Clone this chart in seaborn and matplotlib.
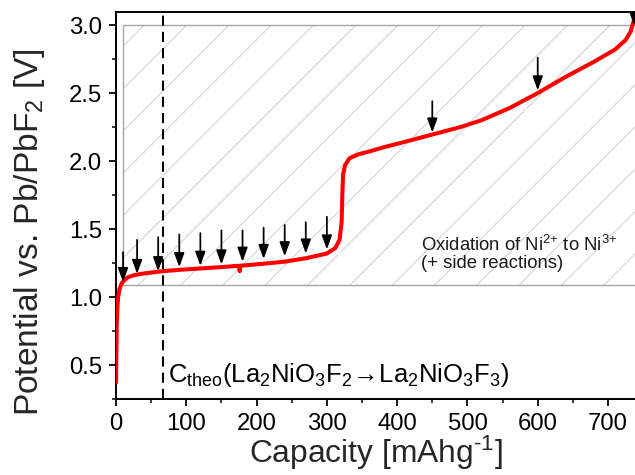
import pandas as pd
import seaborn as sns
import matplotlib.pyplot as plt
from matplotlib.patches import Rectangle
from matplotlib.ticker import MultipleLocator

# Charge curve: capacity (mAh/g) vs potential (V vs. Pb/PbF2)
capacity = [0, 0.5, 1, 2, 3, 5, 8, 12, 17, 25, 35, 50, 67, 90, 120, 150, 175,
            176, 177, 210, 240, 270, 300, 312, 318, 321, 322, 323, 326, 332,
            345, 360, 380, 410, 450, 490, 520, 560, 600, 640, 680, 710, 725,
            732, 736, 740]
potential = [0.37, 0.60, 0.80, 0.93, 1.00, 1.06, 1.10, 1.125, 1.145, 1.16,
             1.17, 1.18, 1.19, 1.20, 1.21, 1.22, 1.23, 1.19, 1.23, 1.245,
             1.26, 1.285, 1.32, 1.36, 1.42, 1.55, 1.75, 1.90, 1.97, 2.02,
             2.05, 2.07, 2.10, 2.14, 2.195, 2.25, 2.30, 2.39, 2.50, 2.62,
             2.73, 2.82, 2.89, 2.95, 3.02, 3.10]

# Markers for sampled states along the curve
arrow_x = [10, 30, 60, 90, 120, 150, 180, 210, 240, 270, 300, 450, 600, 737]
arrow_tip = [1.11, 1.17, 1.19, 1.22, 1.23, 1.24, 1.26, 1.28, 1.30, 1.32,
             1.35, 2.21, 2.52, 3.00]
arrow_tail = [1.33, 1.42, 1.44, 1.46, 1.47, 1.49, 1.49, 1.51, 1.53, 1.55,
              1.59, 2.44, 2.76, 3.25]

c_theo = 67
region_x = [10, 800]
region_v = [1.09, 3.0]

df = pd.DataFrame({"Capacity": capacity, "Potential": potential})

sns.set_style("ticks")
plt.rcParams["font.family"] = ["Liberation Sans", "DejaVu Sans"]
plt.rcParams["mathtext.fontset"] = "custom"
plt.rcParams["mathtext.rm"] = "Liberation Sans"
plt.rcParams["mathtext.it"] = "Liberation Sans:italic"
plt.rcParams["mathtext.bf"] = "Liberation Sans:bold"
plt.rcParams["hatch.linewidth"] = 0.55

DPI = 127
fig = plt.figure(figsize=(635 / DPI, 475 / DPI), dpi=DPI)
ax = fig.add_axes([0.1827, 0.16, 0.8173, 0.8147])

# Hatched region for the Ni2+ -> Ni3+ oxidation range
ax.add_patch(Rectangle((region_x[0], region_v[0]), region_x[1] - region_x[0],
                       region_v[1] - region_v[0], facecolor="none",
                       edgecolor="#cfcfcf", hatch="/", lw=0, zorder=0.5))
ax.add_patch(Rectangle((region_x[0], region_v[0]), region_x[1] - region_x[0],
                       region_v[1] - region_v[0], fill=False,
                       edgecolor="#a5a5a5", lw=0.8, zorder=0.6))

sns.lineplot(data=df, x="Capacity", y="Potential", color="#ff0000",
             lw=2.3, ax=ax, zorder=3)

ax.axvline(c_theo, color="black", lw=1.15, ls=(0, (5, 3)), zorder=2)

for x, tip, tail in zip(arrow_x, arrow_tip, arrow_tail):
    ann = ax.annotate("", xy=(x, tip), xytext=(x, tail),
                      arrowprops=dict(arrowstyle="-|>,head_length=0.55,head_width=0.2",
                                      color="black", lw=1.0, shrinkA=0,
                                      shrinkB=0, mutation_scale=12),
                      zorder=4)
    ann.arrow_patch.set_clip_on(True)
    ann.arrow_patch.set_clip_box(ax.bbox)

ax.text(74, 0.377,
        r"C$_{\mathrm{theo}}$(La$_2$NiO$_3$F$_2$$\!\rightarrow\!$La$_2$NiO$_3$F$_3$)",
        fontsize=14.5, color="black", ha="left", va="baseline")
ax.text(434, 1.338, r"Oxidation of Ni$^{2{+}}$ to Ni$^{3{+}}$", fontsize=10.5,
        color="#1a1a1a", ha="left", va="baseline")
ax.text(434, 1.216, "(+ side reactions)", fontsize=10.5, color="#1a1a1a",
        ha="left", va="baseline")

ax.set_xlim(0, 738.4)
ax.set_ylim(0.25, 3.096)
ax.xaxis.set_major_locator(MultipleLocator(100))
ax.xaxis.set_minor_locator(MultipleLocator(50))
ax.yaxis.set_major_locator(MultipleLocator(0.5))
ax.yaxis.set_minor_locator(MultipleLocator(0.25))
ax.yaxis.set_major_formatter(plt.FormatStrFormatter("%.1f"))

ax.tick_params(which="major", direction="out", length=4, width=1.0,
               labelsize=13.5, colors="black", pad=4)
ax.tick_params(which="minor", direction="out", length=2.3, width=1.0)
ax.tick_params(top=False, right=False)

for side in ["left", "bottom", "top"]:
    ax.spines[side].set_linewidth(1.1)
    ax.spines[side].set_color("black")
ax.spines["right"].set_visible(False)

ax.set_xlabel(r"Capacity [mAhg$^{\text{-}1}$]", fontsize=18, labelpad=-0.8)
ax.set_ylabel(r"Potential vs. Pb/PbF$_2$ [V]", fontsize=19)
ax.yaxis.set_label_coords(-0.133, 0.43)

fig.savefig("out.png", dpi=DPI)
